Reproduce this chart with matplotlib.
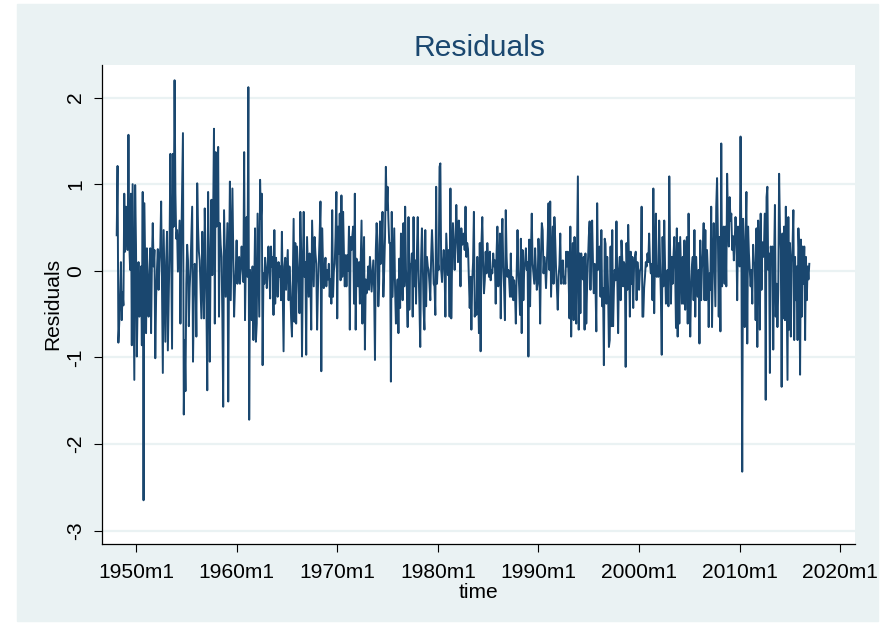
import numpy as np
import matplotlib
matplotlib.use("Agg")
import matplotlib.pyplot as plt
from matplotlib.patches import Rectangle

# ── Residuals, monthly (first month = 1948m2) ──
START_YEAR, START_MONTH = 1948, 2

resid_1940s = [
    0.41, 1.21, -0.83, -0.61, -0.30, 0.10, -0.57, -0.25, -0.40, 0.89, 0.22,
    0.74, 0.55, 0.24, 1.57, 0.30, 0.01, 0.89, -0.86, 1.00, -0.10, -1.26, 0.99,
]
resid_1950s = [
    0.30, -0.99, -0.34, 0.10, -0.53, -0.34, 0.05, -0.86, 0.91, -2.65, 0.78, 0.00,
    -0.72, 0.26, -0.10, -0.53, -0.10, 0.26, -0.72, 0.10, 0.55, 0.05, 0.24, -1.01,
    -0.30, 0.01, 0.25, -0.22, 0.10, 0.28, 0.80, -0.20, -1.18, 0.47, -0.20, -0.82,
    0.10, 0.45, -0.92, -0.30, 0.26, 1.35, 0.20, -0.90, 1.35, 0.51, 2.20, 0.90,
    0.37, 0.47, -0.01, 0.30, 0.58, -0.61, 0.28, 0.90, 1.59, -1.66, -0.80, -1.39,
    -0.15, 0.30, 0.12, -0.64, -0.20, 0.03, 0.40, 0.74, -1.05, -0.30, 0.08, 0.03,
    -0.76, 1.01, 0.50, 0.22, 0.12, -0.20, -0.55, 0.45, -0.10, -0.55, 0.72, 0.10,
    -0.40, -1.38, 0.91, 0.05, -1.05, 0.20, 0.82, -0.05, 0.60, 1.64, -0.61, 1.37,
    0.51, 0.90, 1.43, -0.53, 0.55, 0.30, 0.16, -0.53, -1.57, 0.70, 0.20, -0.30,
    0.10, 0.55, -1.51, 0.08, 1.03, -0.34, 0.30, 0.95, 0.16, -0.53, -0.20, 0.01,
]
resid_1960s = [
    0.35, -0.15, 0.10, 0.16, -0.15, 0.05, 0.28, 0.05, -0.13, 1.37, -0.57, 0.10,
    0.62, -0.07, 2.12, -1.72, 0.01, -0.20, -0.57, 0.05, -0.80, -0.20, 0.49, -0.82,
    -0.61, 0.66, 0.10, -0.53, 1.05, 0.60, 0.89, -1.09, -0.03, -0.15, 0.15, -0.01,
    -0.20, 0.05, 0.28, 0.00, -0.32, 0.28, 0.05, 0.16, -0.51, 0.47, -0.38, 0.15,
    -0.03, -0.30, 0.10, -0.07, 0.05, -0.34, 0.45, -0.20, -0.93, 0.05, 0.15, -0.22,
    0.00, 0.24, -0.34, 0.05, -0.18, -0.55, -0.76, -0.10, 0.60, -0.59, 0.32, -0.61,
    0.28, 0.05, -0.15, -0.49, 0.68, 0.20, -0.99, 0.05, 0.68, -0.07, 0.10, -0.97,
    0.39, 0.05, -0.30, 0.20, -0.10, -0.68, 0.58, 0.20, -0.18, 0.39, 0.20, 0.08,
    -0.68, -0.20, 0.10, 0.40, 0.80, -1.16, 0.49, 0.10, -0.20, 0.01, 0.15, -0.18,
    0.01, -0.10, 0.08, -0.30, -0.10, -0.38, 0.70, -0.30, 0.00, 0.08, 0.40, 0.91,
]
resid_1970s = [
    -0.55, 0.51, 0.20, 0.66, -0.11, 0.87, -0.07, 0.68, 0.20, -0.18, 0.18, -0.18,
    0.18, 0.00, 0.51, -0.68, 0.39, 0.24, 0.40, 0.51, -0.38, 0.89, -0.68, 0.14,
    -0.05, -0.18, 0.10, -0.38, 0.10, 0.58, -0.61, 0.00, 0.39, -0.91, -0.10, -0.26,
    -0.15, 0.05, -0.22, 0.16, 0.00, -0.24, -0.05, 0.12, -0.22, -1.03, 0.24, 0.55,
    0.30, -0.41, -0.15, 0.57, 0.08, 0.30, 0.68, -0.30, 0.00, 0.39, 1.20, 0.70,
    0.97, 0.60, 0.32, 0.32, -1.28, 0.68, -0.30, 0.10, 0.49, -0.22, -0.61, -0.30,
    -0.10, -0.72, 0.14, -0.43, 0.43, 0.10, -0.34, 0.55, -0.18, 0.74, 0.01, -0.20,
    -0.65, 0.62, -0.45, 0.08, 0.05, 0.20, -0.53, 0.62, -0.18, 0.12, -0.38, 0.20,
    0.62, 0.01, -0.38, -0.88, 0.12, 0.49, 0.10, -0.45, -0.68, 0.47, -0.41, 0.16,
    0.05, 0.01, -0.15, -0.34, 0.16, 0.47, 0.20, -0.15, -0.18, -0.51, 0.97, -0.15,
]
resid_1980s = [
    0.10, 0.01, 1.20, 1.24, 0.01, -0.13, 0.10, 0.24, 0.01, -0.53, 0.43, 0.20,
    -0.05, 0.24, -0.53, 0.95, -0.55, 0.10, 0.55, 0.28, 0.01, 0.35, 0.76, 0.40,
    0.10, 0.58, 0.39, -0.18, 0.49, 0.30, 0.39, 0.43, 0.24, 0.74, 0.16, 0.32,
    0.25, -0.07, -0.43, -0.07, -0.68, -0.11, 0.10, 0.68, -0.53, -0.38, -0.51, 0.16,
    -0.20, -0.72, 0.32, -0.93, 0.32, 0.62, 0.10, -0.26, -0.11, 0.22, -0.03, 0.32,
    0.10, -0.07, 0.22, -0.11, 0.01, -0.03, 0.20, 0.05, 0.12, -0.38, 0.20, 0.51,
    -0.18, 0.05, 0.43, -0.55, 0.28, 0.60, 0.05, -0.20, -0.57, 0.70, 0.16, -0.07,
    0.01, -0.10, -0.30, 0.20, -0.30, -0.07, -0.34, -0.11, -0.25, -0.61, -0.03, 0.47,
    0.01, -0.20, -0.51, 0.37, -0.72, 0.24, -0.34, 0.01, 0.10, 0.26, 0.01, 0.10,
    -0.99, 0.36, -0.41, 0.20, 0.66, 0.08, -0.03, -0.15, 0.26, 0.00, -0.22, -0.15,
]
resid_1990s = [
    0.37, 0.08, -0.61, 0.20, 0.55, 0.47, -0.03, 0.16, 0.05, -0.20, 0.10, 0.37,
    0.78, 0.01, 0.80, -0.30, 0.10, 0.51, -0.15, 0.62, 0.35, 0.01, -0.20, -0.45,
    -0.07, 0.07, 0.43, -0.15, 0.05, 0.12, -0.15, -0.07, -0.15, 0.22, 0.05, 0.22,
    -0.11, -0.55, 0.51, -0.76, 0.00, 0.32, -0.57, 0.39, 0.01, -0.61, 0.20, 1.09,
    -0.68, 0.20, -0.49, 0.20, 0.01, -0.10, 0.16, -0.68, 0.20, -0.61, -0.18, 0.10,
    0.39, 0.57, -0.22, 0.28, 0.58, 0.10, -0.26, 0.08, -0.18, -0.70, 0.78, 0.01,
    0.10, 0.28, -0.30, 0.47, -0.41, -0.20, -1.09, 0.37, 0.31, -0.38, 0.16, -0.20,
    -0.88, -0.80, 0.28, -0.64, 0.47, -0.64, -0.20, 0.01, -0.11, 0.57, -0.11, -0.72,
    0.00, 0.16, -0.34, 0.35, 0.12, -0.18, 0.10, 0.05, -1.11, 0.32, -0.22, 0.53,
    0.10, -0.53, 0.22, -0.15, 0.16, -0.43, 0.05, 0.16, 0.22, -0.34, 0.10, -0.03,
]
resid_2000s = [
    -0.22, 0.00, 0.03, 0.74, -0.53, -0.53, -0.20, -0.07, 0.10, 0.05, 0.20, 0.10,
    0.43, 0.10, -0.03, 0.08, -0.34, 0.95, -0.49, 0.20, 0.66, -0.07, 0.05, -0.07,
    0.58, 0.10, -0.30, -0.97, 0.39, -0.18, 0.58, 0.05, -0.38, -0.07, 0.01, -0.41,
    1.09, 0.20, -0.38, 0.16, -0.15, 0.16, 0.39, 0.00, -0.66, 0.49, -0.76, 0.32,
    -0.61, 0.39, 0.00, -0.38, 0.16, -0.38, 0.35, -0.45, 0.00, 0.39, -0.61, 0.66,
    -0.15, -0.76, -0.20, 0.05, 0.16, -0.34, 0.47, -0.53, 0.16, -0.10, -0.30, 0.01,
    -0.84, 0.35, -0.34, 0.03, 0.20, 0.55, -0.34, 0.47, -0.34, 0.24, 0.00, -0.65,
    -0.03, -0.22, 0.74, -0.65, 0.10, 0.55, 0.08, -0.41, 0.74, 1.07, 0.40, -0.53,
    0.39, -0.70, 1.47, -0.18, 0.20, 0.51, -0.15, 0.51, -0.18, 1.12, 0.60, 0.28,
    0.85, 0.58, 0.66, 0.24, 0.40, 0.12, 0.35, 0.62, 0.39, -0.34, 0.51, 0.30,
]
resid_2010s = [
    0.05, 1.55, 0.32, -2.32, 0.60, 0.20, -0.65, 0.39, 0.91, -0.84, 0.51, 0.20,
    0.01, -0.18, 0.01, -0.38, 0.30, 0.10, 0.08, -0.57, 0.49, -0.88, 0.58, 0.20,
    -0.68, 0.66, -0.22, 0.33, 0.16, 0.30, 0.66, -1.49, 0.85, 0.97, 0.01, 0.20,
    -1.18, 0.28, 0.16, 0.28, -0.91, 0.10, 0.76, -0.53, -0.15, -0.65, -0.22, 1.12,
    0.50, 0.24, -1.34, 0.43, -0.55, 0.51, -0.57, 0.74, -0.20, -1.26, 0.62, -0.68,
    0.32, -0.76, 0.10, 0.28, 0.70, -0.80, 0.16, -0.34, 0.05, -0.80, 0.49, 0.16,
    -1.20, 0.36, -0.53, 0.28, -0.15, 0.28, -0.80, 0.16, -0.34, 0.05, -0.10, 0.08,
]

tick_years = [1950, 1960, 1970, 1980, 1990, 2000, 2010, 2020]
tick_labels = [f"{y}m1" for y in tick_years]
y_ticks = [-3, -2, -1, 0, 1, 2]

# ── Stata-like monthly time axis (1960m1 = 0) ──
resid = np.array(resid_1940s + resid_1950s + resid_1960s + resid_1970s
                 + resid_1980s + resid_1990s + resid_2000s + resid_2010s)
t0 = (START_YEAR - 1960) * 12 + (START_MONTH - 1)
months = np.arange(t0, t0 + len(resid))
tick_pos = [(y - 1960) * 12 for y in tick_years]

NAVY = "#1a476f"
BG = "#eaf2f3"
W, H = 895, 627
PX = 72 / 100  # px -> pt at dpi 100

plt.rcParams["font.family"] = ["Liberation Sans", "DejaVu Sans"]

fig = plt.figure(figsize=(W / 100, H / 100), dpi=100, facecolor="white")
fig.patches.append(Rectangle((17 / W, 1 - 621 / H), (878 - 17) / W, (621 - 4) / H,
                             transform=fig.transFigure, color=BG, zorder=-10))

ax = fig.add_axes([101.7 / W, 1 - 544 / H, (855 - 101.7) / W, (544 - 65) / H])
ax.set_zorder(1)
ax.set_facecolor("white")
ax.plot(months, resid, color=NAVY, lw=1.4, zorder=3)

ax.set_xlim(-160.9, 737.5)
ax.set_ylim(-3.155, 2.376)
ax.set_xticks(tick_pos)
ax.set_xticklabels(tick_labels)
ax.set_yticks(y_ticks)
ax.set_yticklabels([str(v) for v in y_ticks])

ax.yaxis.grid(True, color=BG, lw=1.6)
ax.xaxis.grid(False)
ax.set_axisbelow(True)

for side in ["top", "right"]:
    ax.spines[side].set_visible(False)
for side in ["left", "bottom"]:
    ax.spines[side].set_color("black")
    ax.spines[side].set_linewidth(0.9)

ax.tick_params(axis="x", direction="out", length=6, width=0.8, pad=8,
               labelsize=21 * PX, colors="black")
ax.tick_params(axis="y", direction="out", length=6, width=0.8, pad=6,
               labelsize=21 * PX, colors="black")
for lab in ax.get_yticklabels():
    lab.set_rotation(90)
    lab.set_va("center")
    lab.set_ha("right")

fig.text(479 / W, 1 - 56 / H, "Residuals", ha="center", va="baseline",
         fontsize=30 * PX, color=NAVY)
fig.text(53 / W, 1 - 304 / H, "Residuals", ha="center", va="center",
         rotation=90, fontsize=21 * PX)
fig.text(478.4 / W, 1 - 592 / H, "time", ha="center", va="center",
         fontsize=21 * PX)

fig.savefig("out.png", dpi=100, facecolor="white")
